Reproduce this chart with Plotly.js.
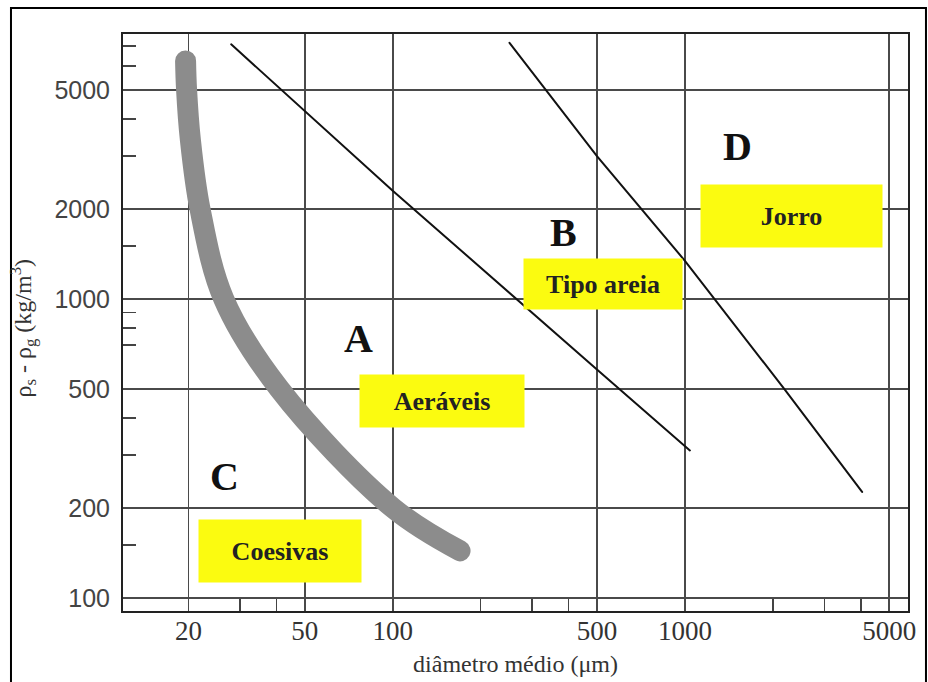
<!DOCTYPE html>
<html>
<head>
<meta charset="utf-8">
<script src="https://cdn.plot.ly/plotly-3.0.1.min.js"></script>
<style>
html,body{margin:0;padding:0;background:#fff;}
#chart{width:928px;height:682px;}
.scatterlayer .js-line{stroke-linecap:round;}
</style>
</head>
<body>
<div id="chart"></div>
<script>
// Axis ticks
const xTickVals = [20, 50, 100, 500, 1000, 5000];
const xTickText = ['20', '50', '100', '500', '1000', '5000'];
const yTickVals = [100, 200, 500, 1000, 2000, 5000];
const yTickText = ['100', '200', '500', '1000', '2000', '5000'];
const xMinorVals = [30, 40, 200, 300, 400, 2000, 3000, 4000];
const yMinorVals = [150, 300, 400, 700, 800, 900, 1500, 3000, 4000, 6000, 7000];

// Boundary A/B (straight line on log-log)
const lineABx = [28, 100, 500, 1040];
const lineABy = [7100, 2300, 580, 311];
// Boundary B/D
const lineBDx = [251, 500, 1000, 2200, 4040];
const lineBDy = [7180, 3000, 1340, 496, 226];
// Boundary C/A (thick gray band)
const curveCx = [19.55, 19.7, 20.3, 21.9, 26.4, 40.9, 100, 170];
const curveCy = [6245, 5030, 3410, 2000, 1000, 500, 200, 143.5];

// Region letters and names
const regionLetters = ['A', 'B', 'C', 'D'];
const regionNames = ['Aeráveis', 'Tipo areia', 'Coesivas', 'Jorro'];

const L = Math.log10;
const serif = 'Liberation Serif, Times New Roman, serif';

const traces = [
  {x: curveCx, y: curveCy, mode: 'lines', line: {color: '#8c8c8c', width: 21, shape: 'spline', smoothing: 1}, hoverinfo: 'skip'},
  {x: lineABx, y: lineABy, mode: 'lines', line: {color: '#111', width: 2}, hoverinfo: 'skip'},
  {x: lineBDx, y: lineBDy, mode: 'lines', line: {color: '#111', width: 2}, hoverinfo: 'skip'}
];

const letterPos = [[76.4, 734], [383, 1667], [26.6, 254], [1517, 3228]];
const boxPos = [[147.8, 455, 164, 52], [524, 1117, 158, 50], [41.2, 143.4, 162, 62], [2307, 1893, 181, 62]];

const annotations = [];
regionLetters.forEach((t, i) => {
  annotations.push({x: L(letterPos[i][0]), y: L(letterPos[i][1]), xref: 'x', yref: 'y', text: t, showarrow: false,
    font: {family: serif, size: 40, color: '#111', weight: 700}});
});
regionNames.forEach((t, i) => {
  const b = boxPos[i];
  annotations.push({x: L(b[0]), y: L(b[1]), xref: 'x', yref: 'y', text: t, showarrow: false,
    bgcolor: '#fbfb10', width: b[2], height: b[3], borderpad: 0, align: 'center', valign: 'middle',
    font: {family: serif, size: 26, color: '#222', weight: 700}});
});
// y-axis title
annotations.push({xref: 'paper', yref: 'paper', x: -0.127, y: 0.49, xanchor: 'center', yanchor: 'middle',
  textangle: -90, showarrow: false,
  text: 'ρ<sub>s</sub> - ρ<sub>g</sub> (kg/m<sup>3</sup>)', font: {family: serif, size: 24, color: '#333'}});

const layout = {
  width: 928, height: 682,
  margin: {l: 123, r: 20, t: 34, b: 71},
  paper_bgcolor: '#fff', plot_bgcolor: '#fff',
  showlegend: false,
  xaxis: {
    type: 'log', range: [L(11.94), L(5800)],
    tickmode: 'array', tickvals: xTickVals, ticktext: xTickText,
    ticks: '', ticklabelstandoff: -5,
    tickfont: {family: serif, size: 27, color: '#333'},
    showgrid: true, gridcolor: '#4a4a4a', gridwidth: 1.6,
    showline: true, mirror: true, linecolor: '#222', linewidth: 2,
    zeroline: false,
    minor: {tickmode: 'array', tickvals: xMinorVals, ticks: 'inside', ticklen: 12, tickwidth: 1.5, tickcolor: '#444', showgrid: false},
    title: {text: 'diâmetro médio (μm)', font: {family: serif, size: 24, color: '#333'}, standoff: 10}
  },
  yaxis: {
    type: 'log', range: [L(90.3), L(7686)],
    tickmode: 'array', tickvals: yTickVals, ticktext: yTickText,
    ticks: '', ticklabelstandoff: 6,
    tickfont: {family: 'Liberation Sans, Arial, sans-serif', size: 25, color: '#444'},
    showgrid: true, gridcolor: '#4a4a4a', gridwidth: 1.6,
    showline: true, mirror: true, linecolor: '#222', linewidth: 2,
    zeroline: false,
    minor: {tickmode: 'array', tickvals: yMinorVals, ticks: 'inside', ticklen: 13, tickwidth: 1.5, tickcolor: '#444', showgrid: false}
  },
  annotations: annotations,
  shapes: [
    {type: 'rect', xref: 'paper', yref: 'paper', x0: -0.1427, x1: 1.0229, y0: -0.2, y1: 1.045,
     line: {color: '#000', width: 2}, fillcolor: 'rgba(0,0,0,0)', layer: 'below'}
  ]
};

Plotly.newPlot('chart', traces, layout, {displayModeBar: false, staticPlot: true});
</script>
</body>
</html>
